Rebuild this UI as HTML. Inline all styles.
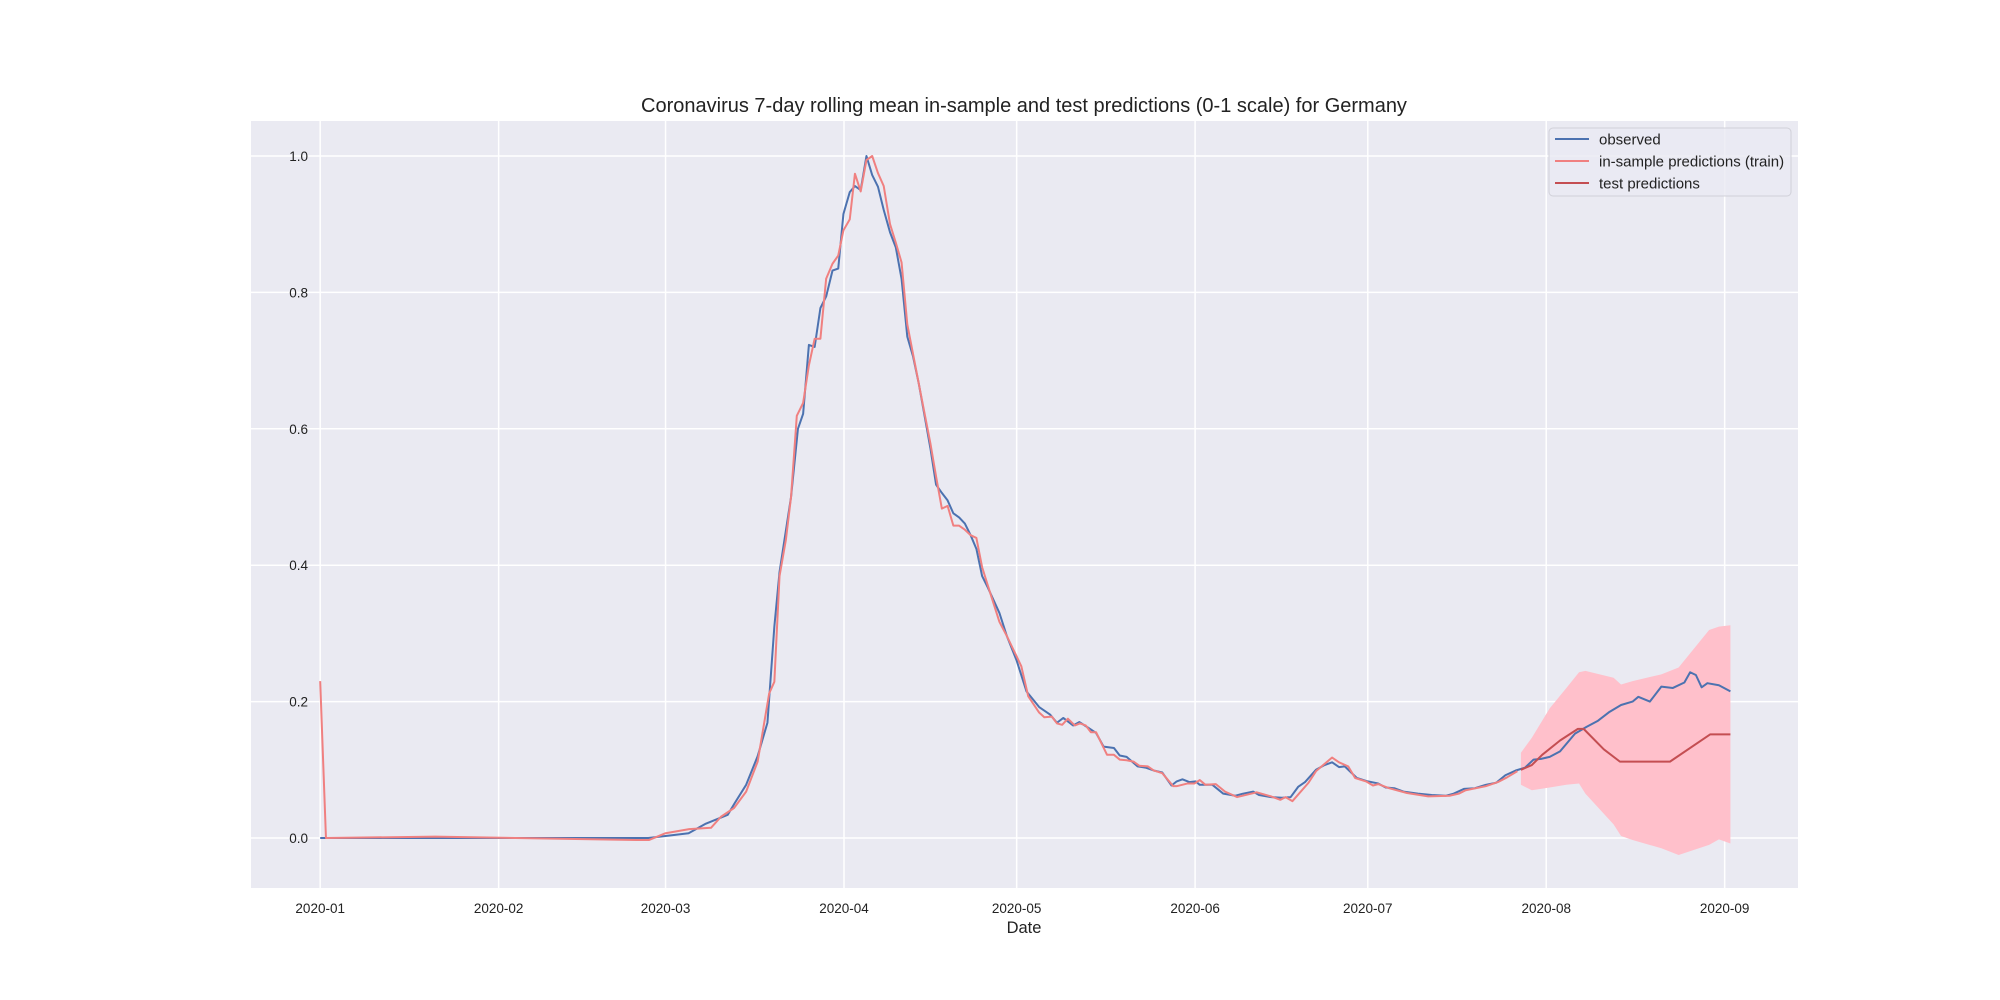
<!DOCTYPE html>
<html><head><meta charset="utf-8"><style>
html,body{margin:0;padding:0;background:#fff;}
svg{display:block;font-family:"Liberation Sans",Arial,sans-serif;}
</style></head><body>
<svg id="chart" width="2000" height="1000" viewBox="0 0 2000 1000" xmlns="http://www.w3.org/2000/svg">
<rect x="251" y="121" width="1547" height="767" fill="#eaeaf2"/>
<g id="grid"></g>
<g id="marks"></g>
<g id="ticks"></g>
<text x="1024" y="112" text-anchor="middle" font-size="20" fill="#222">Coronavirus 7-day rolling mean in-sample and test predictions (0-1 scale) for Germany</text>
<text x="1024" y="933" text-anchor="middle" font-size="16.5" fill="#222">Date</text>
<g>
<rect x="1549" y="128" width="242" height="68" rx="4" fill="#eaeaf2" fill-opacity="0.8" stroke="#d0d0d8"/>
<g><line x1="1555" y1="139" x2="1589" y2="139" stroke="#4c72b0" stroke-width="2"/><text x="1599" y="144.5" font-size="15" fill="#222">observed</text></g>
<g><line x1="1555" y1="161" x2="1589" y2="161" stroke="#f08080" stroke-width="2"/><text x="1599" y="166.5" font-size="15" fill="#222">in-sample predictions (train)</text></g>
<g><line x1="1555" y1="183" x2="1589" y2="183" stroke="#c44e52" stroke-width="2"/><text x="1599" y="188.5" font-size="15" fill="#222">test predictions</text></g>
</g>
</svg>
<script>
const xTickLabels = ["2020-01","2020-02","2020-03","2020-04","2020-05","2020-06","2020-07","2020-08","2020-09"];
const xTickDays = [0,31,60,91,121,152,182,213,244];
const yTickVals = [0,0.2,0.4,0.6,0.8,1.0];
const yTickLabels = ["0.0","0.2","0.4","0.6","0.8","1.0"];
const obsDays = [0,57,60,64,67,70.8,72,74,76,77.7,78.9,79.8,81.8,83,83.9,84.9,85.9,86.9,87.9,89,90,90.9,92,92.9,93.9,94.9,95.9,96.9,97.9,99,100,101,102,103,104,105,106,107,108,109,110,111,112,113,114,115,116,118,119.3,121,122.7,124.9,126.8,128,129.1,130.8,131.9,133,134.8,136.1,137.9,138.9,140.1,142,143.5,144.8,146.3,147.9,148.8,149.8,151,152.1,152.8,155,156.9,159,160.3,162.1,163.1,165.2,167.1,168.6,169.9,171.1,173,174.5,175.8,177,178,180.1,182,183.8,185.1,186.6,188.2,190.7,193.1,195.6,196.9,198.7,200.6,202.5,204.3,205.9,207.7,209.3,210.8,212.1,213.6,215.4,218,220,222,224,226,228,229,231,233,235,237,238,239,240,241,243,245];
const obsVals = [0,0,0.003,0.007,0.021,0.034,0.051,0.078,0.12,0.169,0.31,0.39,0.5,0.6,0.622,0.723,0.72,0.777,0.794,0.832,0.835,0.915,0.947,0.956,0.95,1.0,0.972,0.955,0.921,0.888,0.866,0.82,0.735,0.706,0.666,0.619,0.572,0.518,0.506,0.495,0.476,0.47,0.461,0.444,0.424,0.384,0.367,0.33,0.296,0.26,0.215,0.192,0.181,0.169,0.176,0.165,0.17,0.164,0.154,0.134,0.132,0.121,0.119,0.105,0.103,0.099,0.096,0.077,0.083,0.086,0.082,0.083,0.078,0.078,0.065,0.062,0.065,0.068,0.063,0.06,0.059,0.06,0.075,0.082,0.1,0.107,0.111,0.104,0.105,0.088,0.083,0.08,0.074,0.073,0.068,0.065,0.063,0.062,0.065,0.072,0.073,0.078,0.081,0.092,0.099,0.103,0.115,0.116,0.119,0.127,0.153,0.163,0.172,0.185,0.195,0.2,0.207,0.2,0.222,0.22,0.228,0.243,0.239,0.221,0.227,0.224,0.215];
const trainDays = [0,1,20,55.3,57.1,60,64.1,67.9,69.6,71.9,74,76,78,78.9,79.8,80.9,81.8,82.8,83.9,84.9,85.9,86.9,87.9,89,90,90.9,92,92.9,93.9,94.9,95.9,96.9,97.9,99,100,101,102,104,106,107,108,109,110,111,112,113,114,115,116,118,119.3,121.8,123,124.9,125.8,127.1,128,128.9,129.9,131.1,132,133,133.9,134.8,136.7,137.9,138.9,140.1,141.3,142.3,143.8,144.8,146.3,148.2,148.8,150.7,151.9,152.8,153.8,155.6,157.2,159.3,162.7,165.2,166.8,167.7,168.9,171.7,173,175.8,177,178.6,179.8,181.7,182.9,183.8,185.7,188.8,192.5,196.2,197.8,199,202.5,204.6,206.2,208];
const trainVals = [0.23,0,0.002,-0.003,-0.003,0.007,0.013,0.015,0.031,0.044,0.068,0.112,0.212,0.229,0.384,0.437,0.5,0.619,0.638,0.693,0.732,0.732,0.82,0.842,0.854,0.891,0.907,0.974,0.948,0.994,1.0,0.975,0.956,0.9,0.873,0.844,0.753,0.666,0.579,0.53,0.483,0.487,0.458,0.458,0.452,0.444,0.44,0.397,0.37,0.317,0.296,0.252,0.208,0.184,0.177,0.178,0.168,0.166,0.175,0.165,0.168,0.165,0.155,0.155,0.122,0.122,0.115,0.114,0.112,0.106,0.105,0.099,0.095,0.076,0.076,0.08,0.08,0.085,0.078,0.079,0.068,0.06,0.067,0.061,0.056,0.06,0.054,0.081,0.098,0.118,0.111,0.105,0.088,0.083,0.077,0.079,0.073,0.066,0.061,0.062,0.065,0.07,0.076,0.082,0.089,0.098];
const testDays = [208.6,210.5,212.3,215.4,218.5,219.5,223,225.8,234.5,241.5,245];
const testVals = [0.1,0.107,0.122,0.143,0.16,0.16,0.13,0.112,0.112,0.152,0.152];
const bandDays = [208.6,210.5,213.6,216.5,218.7,219.8,224.7,226,228,233,236,241.3,243,245];
const bandUpper = [0.125,0.147,0.19,0.22,0.243,0.245,0.235,0.225,0.23,0.24,0.25,0.305,0.31,0.312];
const bandLower = [0.078,0.07,0.074,0.078,0.08,0.065,0.02,0.003,-0.003,-0.015,-0.025,-0.01,-0.002,-0.008];

const NS="http://www.w3.org/2000/svg";
const X0=320.2, PXDAY=5.756, Y0=838, PXUNIT=682;
function xs(d){return X0+d*PXDAY;}
function ys(v){return Y0-v*PXUNIT;}
function mk(tag,attrs,parent){const e=document.createElementNS(NS,tag);for(const k in attrs)e.setAttribute(k,attrs[k]);parent.appendChild(e);return e;}
const grid=document.getElementById('grid'), marks=document.getElementById('marks'), ticks=document.getElementById('ticks');
xTickDays.forEach((d,i)=>{
  const g=mk('line',{x1:xs(d),x2:xs(d),y1:121,y2:888,stroke:'#fff','stroke-width':1.5},grid);
  
  
  const t=mk('text',{x:xs(d),y:913,'text-anchor':'middle','font-size':13.5,fill:'#222'},ticks);
  
  
  t.textContent=xTickLabels[i];
});
yTickVals.forEach((v,i)=>{
  const g=mk('line',{x1:251,x2:1798,y1:ys(v),y2:ys(v),stroke:'#fff','stroke-width':1.5},grid);
  
  
  const t=mk('text',{x:308,y:ys(v)+5,'text-anchor':'end','font-size':13.5,fill:'#222'},ticks);
  
  
  t.textContent=yTickLabels[i];
});
let bp=bandDays.map((d,i)=>xs(d)+','+ys(bandUpper[i]));
for(let i=bandDays.length-1;i>=0;i--)bp.push(xs(bandDays[i])+','+ys(bandLower[i]));
const band=mk('polygon',{points:bp.join(' '),fill:'#ffc0cb'},marks);


function line(days,vals,color,name){
  const p=mk('polyline',{points:days.map((d,i)=>xs(d)+','+ys(vals[i])).join(' '),fill:'none',stroke:color,'stroke-width':2,'stroke-linejoin':'round'},marks);
  
  
}
line(obsDays,obsVals,'#4c72b0','observed-line');
line(trainDays,trainVals,'#f08080','train-prediction-line');
line(testDays,testVals,'#c44e52','test-prediction-line');
</script>
</body></html>
